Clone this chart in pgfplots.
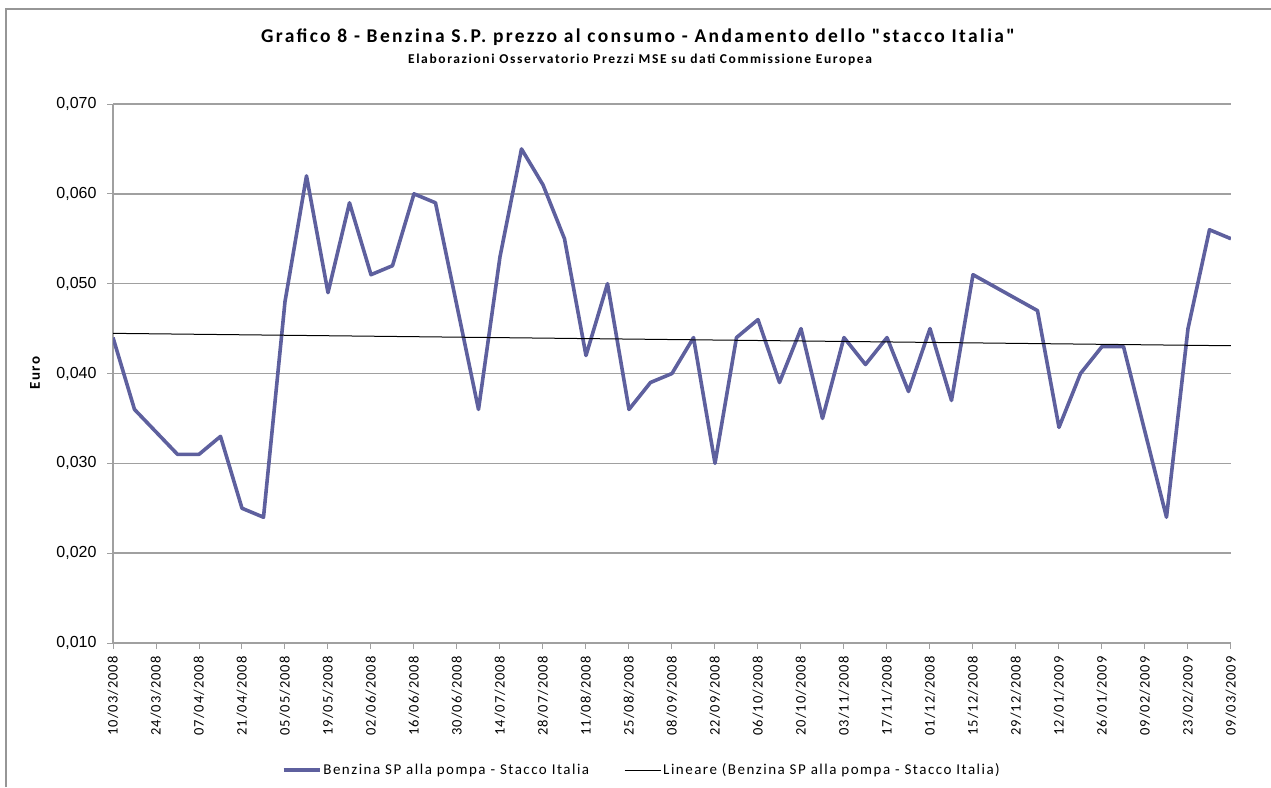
\documentclass[border=0pt]{standalone}
\usepackage{fontspec}
\setmainfont{Carlito}
\newfontfamily\titlefont{Carlito}[LetterSpace=12, Ligatures=TeXOff]
\newfontfamily\spacedfont{Carlito}[LetterSpace=10]
\newfontfamily\tickfont{Carlito}[LetterSpace=7]
\newfontfamily\arialfont{Liberation Sans}
\usepackage{pgfplots}
\pgfplotsset{compat=1.18}
\usepackage{pgfplotstable}

\definecolor{serie}{RGB}{94,96,158}
\definecolor{griglia}{RGB}{160,160,160}
\definecolor{cornice}{RGB}{150,150,150}

% settimana (0 = 10/03/2008), stacco in euro
\pgfplotstableread{
w v
0 0.044
1 0.036
3 0.031
4 0.031
5 0.033
6 0.025
7 0.024
8 0.048
9 0.062
10 0.049
11 0.059
12 0.051
13 0.052
14 0.060
15 0.059
17 0.036
18 0.053
19 0.065
20 0.061
21 0.055
22 0.042
23 0.050
24 0.036
25 0.039
26 0.040
27 0.044
28 0.030
29 0.044
30 0.046
31 0.039
32 0.045
33 0.035
34 0.044
35 0.041
36 0.044
37 0.038
38 0.045
39 0.037
40 0.051
43 0.047
44 0.034
45 0.040
46 0.043
47 0.043
49 0.024
50 0.045
51 0.056
52 0.055
}\stacco

\begin{document}
\begin{tikzpicture}
\path[use as bounding box] (0pt,0pt) rectangle (1271pt,-787pt);
\draw[cornice, line width=2pt] (6pt,-787pt) -- (6pt,-9pt) -- (1271pt,-9pt);

\node at (638pt,-37pt) {\titlefont\fontsize{19.5}{22}\selectfont\bfseries Grafico 8 - Benzina S.P. prezzo al consumo - Andamento dello "stacco Italia"};
\node at (640pt,-60pt) {\titlefont\fontsize{13.5}{16}\selectfont\bfseries Elaborazioni Osservatorio Prezzi MSE su dati Commissione Europea};
\node[rotate=90] at (35pt,-373pt) {\spacedfont\fontsize{15}{17}\selectfont\bfseries Euro};

\begin{axis}[
    at={(113pt,-643pt)}, anchor=origin,
    scale only axis,
    width=1118pt, height=539pt,
    xmin=0, xmax=52, ymin=0.010, ymax=0.070,
    axis lines*=left,
    axis line style={draw=griglia, line width=1.2pt},
    ymajorgrids,
    major grid style={draw=griglia, line width=1.5pt},
    tick align=outside,
    major tick length=6pt,
    tick style={draw=griglia, line width=1pt},
    ytick={0.010,0.020,...,0.070},
    yticklabel style={font=\arialfont\fontsize{16}{18}\selectfont,
        /pgf/number format/.cd, fixed, fixed zerofill, precision=3, use comma, assume math mode=true},
    scaled y ticks=false,
    yticklabel shift=7pt,
    xtick={0,2,...,52},
    xticklabels={10/03/2008,24/03/2008,07/04/2008,21/04/2008,05/05/2008,19/05/2008,
        02/06/2008,16/06/2008,30/06/2008,14/07/2008,28/07/2008,11/08/2008,25/08/2008,
        08/09/2008,22/09/2008,06/10/2008,20/10/2008,03/11/2008,17/11/2008,01/12/2008,
        15/12/2008,29/12/2008,12/01/2009,26/01/2009,09/02/2009,23/02/2009,09/03/2009},
    xticklabel style={rotate=90, anchor=east, font=\tickfont\fontsize{14.5}{16}\selectfont},
    xticklabel shift=4pt,
    legend columns=2,
    legend style={at={(axis description cs:0.473,-0.236)}, anchor=center, draw=none,
        font=\spacedfont\fontsize{15}{17}\selectfont, /tikz/every even column/.append style={column sep=33pt}},
    legend image code/.code={\draw[#1] (0pt,0pt) -- (36pt,0pt);},
]
\addplot[serie, line width=3.6pt, line join=round] table[x=w, y=v] {\stacco};
\addplot[black, line width=1pt] coordinates {(0,0.04447) (52,0.04309)};
\legend{Benzina SP alla pompa - Stacco Italia, Lineare (Benzina SP alla pompa - Stacco Italia)}
\end{axis}
\end{tikzpicture}
\end{document}
